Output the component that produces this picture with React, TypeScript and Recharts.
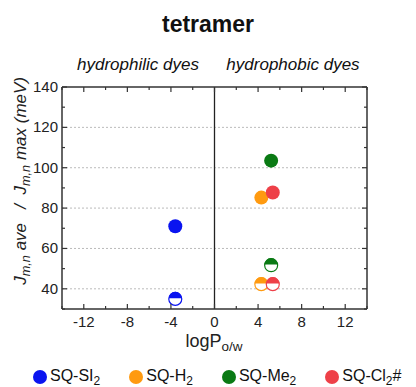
import React from 'react';
import { ScatterChart, Scatter, XAxis, YAxis, CartesianGrid, ReferenceLine } from 'recharts';

const seriesNames = ['SQ-SI', 'SQ-H', 'SQ-Me', 'SQ-Cl'];
const seriesSuffix = ['', '', '', '#'];
const seriesColors = ['#0a14f0', '#ff9a10', '#0a7a14', '#ee4048'];
const logP = [-3.6, 4.3, 5.2, 5.35];
const jMax = [71, 85.2, 103.5, 87.7];
const jAve = [35, 42.3, 51.7, 42.3];

const xTicks = [-14, -12, -10, -8, -6, -4, -2, 0, 2, 4, 6, 8, 10, 12, 14];
const xLabelTicks = [-12, -8, -4, 0, 4, 8, 12];
const yTicks = [30, 40, 50, 60, 70, 80, 90, 100, 110, 120, 130, 140];
const yLabelTicks = [40, 60, 80, 100, 120, 140];
const gridY = [40, 60, 80, 100, 120];

const FONT = '"Liberation Sans", Arial, Helvetica, sans-serif';
const AXIS = '#333';

const tickLen = (v: number, majors: number[]) => (majors.includes(v) ? 5 : 3);

const BottomTick = (props: any) => {
  const { x, y, payload } = props;
  const v = payload.value;
  return (
    <g>
      <line x1={x} y1={y} x2={x} y2={y - tickLen(v, xLabelTicks)} stroke={AXIS} strokeWidth={1.2} />
      {xLabelTicks.includes(v) && (
        <text x={x} y={y + 18} textAnchor="middle" fontSize={15} fill="#222" fontFamily={FONT}>
          {v}
        </text>
      )}
    </g>
  );
};

const TopTick = (props: any) => {
  const { x, y, payload } = props;
  return <line x1={x} y1={y} x2={x} y2={y + tickLen(payload.value, xLabelTicks)} stroke={AXIS} strokeWidth={1.2} />;
};

const LeftTick = (props: any) => {
  const { x, y, payload } = props;
  const v = payload.value;
  return (
    <g>
      <line x1={x} y1={y} x2={x + tickLen(v, yLabelTicks)} y2={y} stroke={AXIS} strokeWidth={1.2} />
      {yLabelTicks.includes(v) && (
        <text x={x - 4} y={y + 5} textAnchor="end" fontSize={15} fill="#222" fontFamily={FONT}>
          {v}
        </text>
      )}
    </g>
  );
};

const RightTick = (props: any) => {
  const { x, y, payload } = props;
  return <line x1={x} y1={y} x2={x - tickLen(payload.value, yLabelTicks)} y2={y} stroke={AXIS} strokeWidth={1.2} />;
};

const FullDot = (props: any) => {
  const { cx, cy, fill } = props;
  return <circle cx={cx} cy={cy} r={7} fill={fill} />;
};

const HalfDot = (props: any) => {
  const { cx, cy, fill } = props;
  const r = 6.5;
  return (
    <g>
      <circle cx={cx} cy={cy} r={r} fill="#fff" stroke={fill} strokeWidth={1.2} />
      <path d={`M ${cx - r} ${cy - 0.6} A ${r} ${r} 0 0 1 ${cx + r} ${cy - 0.6} Z`} fill={fill} />
    </g>
  );
};

const sub: React.CSSProperties = { fontSize: '0.75em', verticalAlign: '-0.3em' };

export default function App() {
  return (
    <div style={{ position: 'absolute', left: 0, top: 0, width: 416, height: 387, background: '#fff', fontFamily: FONT }}>
      <ScatterChart width={416} height={387} margin={{ top: 0, right: 0, bottom: 0, left: 0 }}>
        <CartesianGrid
          xAxisId="bottom"
          yAxisId="left"
          vertical={false}
          horizontalValues={gridY}
          stroke="#bbb"
          strokeDasharray="2 2"
        />
        <XAxis
          xAxisId="bottom"
          type="number"
          dataKey="x"
          domain={[-14, 14]}
          allowDataOverflow
          ticks={xTicks}
          interval={0}
          height={78}
          tickSize={0}
          tickMargin={0}
          tickLine={false}
          tick={<BottomTick />}
          axisLine={{ stroke: AXIS, strokeWidth: 1.5 }}
        />
        <XAxis
          xAxisId="top"
          orientation="top"
          type="number"
          dataKey="x"
          domain={[-14, 14]}
          allowDataOverflow
          ticks={xTicks}
          interval={0}
          height={87}
          tickSize={0}
          tickMargin={0}
          tickLine={false}
          tick={<TopTick />}
          axisLine={{ stroke: AXIS, strokeWidth: 1.5 }}
        />
        <YAxis
          yAxisId="left"
          type="number"
          dataKey="y"
          domain={[30, 140]}
          allowDataOverflow
          ticks={yTicks}
          interval={0}
          width={62}
          tickSize={0}
          tickMargin={0}
          tickLine={false}
          tick={<LeftTick />}
          axisLine={{ stroke: AXIS, strokeWidth: 1.5 }}
        />
        <YAxis
          yAxisId="right"
          orientation="right"
          type="number"
          dataKey="y"
          domain={[30, 140]}
          allowDataOverflow
          ticks={yTicks}
          interval={0}
          width={49}
          tickSize={0}
          tickMargin={0}
          tickLine={false}
          tick={<RightTick />}
          axisLine={{ stroke: AXIS, strokeWidth: 1.5 }}
        />
        <ReferenceLine xAxisId="bottom" yAxisId="left" x={0} stroke="#222" strokeWidth={1.3} />
        {seriesNames.map((name, i) => (
          <Scatter
            key={name + '-max'}
            name={name}
            xAxisId="bottom"
            yAxisId="left"
            data={[{ x: logP[i], y: jMax[i] }]}
            fill={seriesColors[i]}
            shape={<FullDot />}
            isAnimationActive={false}
          />
        ))}
        {seriesNames.map((name, i) => (
          <Scatter
            key={name + '-ave'}
            name={name}
            xAxisId="bottom"
            yAxisId="left"
            data={[{ x: logP[i], y: jAve[i] }]}
            fill={seriesColors[i]}
            shape={<HalfDot />}
            isAnimationActive={false}
          />
        ))}
      </ScatterChart>

      <div style={{ position: 'absolute', left: 0, width: 416, top: 11, textAlign: 'center', fontSize: 23, fontWeight: 'bold', color: '#111' }}>
        tetramer
      </div>
      <div style={{ position: 'absolute', left: 58, width: 160, top: 55, textAlign: 'center', fontSize: 17, fontStyle: 'italic', color: '#111' }}>
        hydrophilic dyes
      </div>
      <div style={{ position: 'absolute', left: 213, width: 160, top: 55, textAlign: 'center', fontSize: 17, fontStyle: 'italic', color: '#111' }}>
        hydrophobic dyes
      </div>
      <div
        style={{
          position: 'absolute',
          left: 22,
          top: 181,
          width: 260,
          marginLeft: -130,
          marginTop: -11,
          textAlign: 'center',
          fontSize: 17,
          fontStyle: 'italic',
          color: '#222',
          whiteSpace: 'nowrap',
          transform: 'rotate(-90deg)',
        }}
      >
        J<span style={sub}>m,n</span> ave&nbsp;&nbsp; /&nbsp; J<span style={sub}>m,n</span> max (meV)
      </div>
      <div style={{ position: 'absolute', left: 114, width: 200, top: 331, textAlign: 'center', fontSize: 18, color: '#222' }}>
        logP<span style={sub}>o/w</span>
      </div>
      <div style={{ position: 'absolute', left: 33, top: 367, display: 'flex', gap: 29, fontSize: 16, color: '#111', whiteSpace: 'nowrap' }}>
        {seriesNames.map((name, i) => (
          <div key={name} style={{ display: 'flex', alignItems: 'center' }}>
            <span style={{ display: 'inline-block', width: 14, height: 14, borderRadius: 7, background: seriesColors[i], marginRight: 3 }} />
            <span>
              {name}
              <span style={sub}>2</span>
              {seriesSuffix[i]}
            </span>
          </div>
        ))}
      </div>
    </div>
  );
}
